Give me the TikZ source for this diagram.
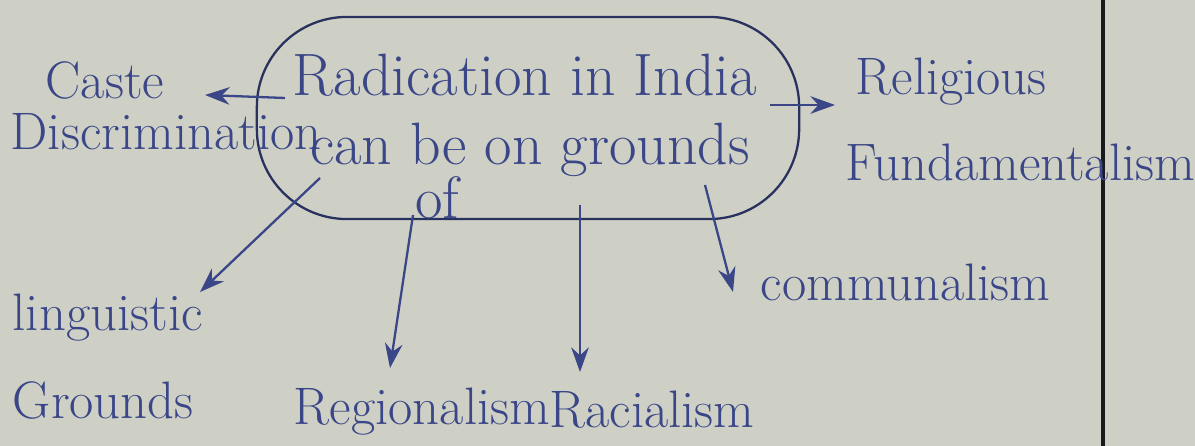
\documentclass[tikz,border=0pt]{standalone}
\usetikzlibrary{arrows.meta}
\definecolor{paper}{RGB}{206,208,197}
\definecolor{ink}{RGB}{58,70,135}
\definecolor{rule}{RGB}{25,25,30}
\tikzset{
  hand/.style={text=ink, font=\fontsize{15}{17}\selectfont, inner sep=0pt},
  bighand/.style={hand, font=\fontsize{17}{19}\selectfont},
  conn/.style={draw=ink, line width=0.65pt, -{Stealth[length=7pt,width=5pt]}},
  hubshape/.style={draw=ink!70!black, line width=0.65pt, rectangle, rounded corners=0.9cm, minimum width=5.42cm, minimum height=2.02cm},
}
\begin{document}
\begin{tikzpicture}[x=0.01cm,y=-0.01cm]
\fill[paper] (0,0) rectangle (1195,446);
\useasboundingbox (0,0) rectangle (1195,446);
% vertical rule
\draw[rule, line width=1.2pt] (1103,0) -- (1103,446);
% central oval
\node[hubshape] (hub) at (528,118) {};
\node[bighand] (t1) at (525,75) {Radication in India};
\node[bighand] (t2) at (530,150) {can be on grounds};
\node[bighand] (t3) at (437,198) {of};
% labels
\node[hand, anchor=west] (caste) at (45,80) {Caste};
\node[hand, anchor=west] (disc) at (10,132) {Discrimination};
\node[hand, anchor=west] (rel) at (855,82) {Religious};
\node[hand, anchor=west] (fund) at (845,162) {Fundamentalism};
\node[hand, anchor=west] (ling) at (12,318) {linguistic};
\node[hand, anchor=west] (grnd) at (12,400) {Grounds};
\node[hand] (reg) at (422,412) {Regionalism};
\node[hand] (rac) at (652,410) {Racialism};
\node[hand, anchor=west] (comm) at (760,282) {communalism};
% connector start and end points
\coordinate (sl) at (285,98);   \coordinate (el) at (205,95);
\coordinate (sr) at (770,105);  \coordinate (er) at (835,105);
\coordinate (sli) at (320,178); \coordinate (eli) at (200,292);
\coordinate (sreg) at (413,215);\coordinate (ereg) at (390,368);
\coordinate (srac) at (580,205);\coordinate (erac) at (580,372);
\coordinate (scom) at (705,185);\coordinate (ecom) at (733,292);
% connectors
\draw[conn] (sl) -- (el);
\draw[conn] (sr) -- (er);
\draw[conn] (sli) -- (eli);
\draw[conn] (sreg) -- (ereg);
\draw[conn] (srac) -- (erac);
\draw[conn] (scom) -- (ecom);
\end{tikzpicture}
\end{document}
